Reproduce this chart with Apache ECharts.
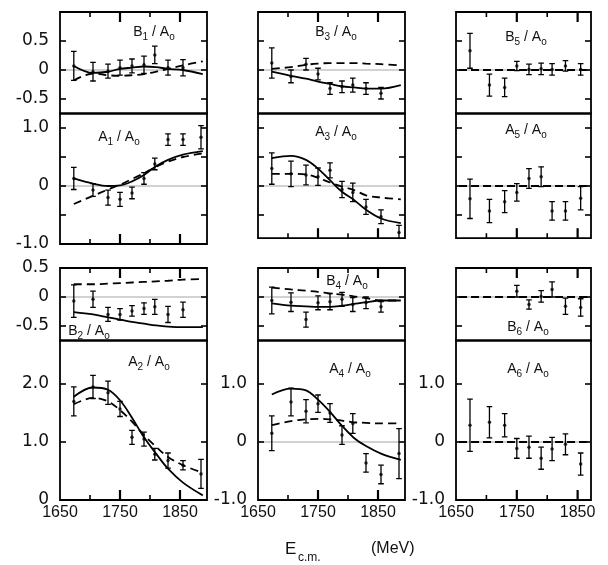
<!DOCTYPE html>
<html><head><meta charset="utf-8">
<script src="https://cdn.jsdelivr.net/npm/echarts@6/dist/echarts.min.js"></script>
<style>html,body{margin:0;padding:0;background:#fff}#c{width:608px;height:565px}</style>
</head><body><div id="c"></div>
<script>
// ---------------- DATA ----------------
const energies   = [1673, 1705, 1730, 1750, 1770, 1790, 1808, 1830, 1855, 1885];
const energiesB6 = [1750, 1770, 1790, 1808, 1830, 1855];
const curveE     = [1673, 1705, 1730, 1750, 1770, 1790, 1810, 1830, 1855, 1888];
const zeroModelE = [1655, 1868];
const zeroModel  = [0, 0];

const b1Val = [0.07, -0.03, -0.02, 0.04, 0.07, 0.09, 0.26, 0.04, 0.04];
const b1Err = [0.25, 0.16, 0.12, 0.13, 0.12, 0.15, 0.15, 0.13, 0.14];
const b1Solid  = [0.07, -0.05, -0.03, 0.02, 0.04, 0.06, 0.05, 0.02, 0.0, -0.07];
const b1Dashed = [-0.18, -0.06, -0.09, -0.1, -0.09, -0.07, -0.03, 0.02, 0.08, 0.15];

const a1Val = [0.13, -0.07, -0.2, -0.23, -0.12, 0.13, 0.38, 0.8, 0.8, 0.84];
const a1Err = [0.19, 0.11, 0.13, 0.12, 0.1, 0.1, 0.1, 0.1, 0.1, 0.2];
const a1Solid  = [0.13, 0.04, 0.0, 0.01, 0.08, 0.19, 0.34, 0.45, 0.54, 0.6];
const a1Dashed = [-0.31, -0.17, -0.06, 0.02, 0.12, 0.22, 0.33, 0.42, 0.5, 0.56];

const b3Val = [0.12, -0.11, 0.1, -0.07, -0.32, -0.29, -0.26, -0.32, -0.4];
const b3Err = [0.26, 0.11, 0.1, 0.1, 0.1, 0.1, 0.12, 0.1, 0.1];
const b3Solid  = [-0.03, -0.1, -0.15, -0.2, -0.24, -0.28, -0.3, -0.32, -0.32, -0.26];
const b3Dashed = [0.02, 0.05, 0.09, 0.11, 0.12, 0.12, 0.12, 0.11, 0.1, 0.08];

const a3Val = [0.3, 0.21, 0.19, 0.16, 0.27, -0.06, -0.11, -0.36, -0.53, -0.8];
const a3Err = [0.27, 0.22, 0.17, 0.15, 0.13, 0.14, 0.16, 0.13, 0.12, 0.12];
const a3Solid  = [0.48, 0.52, 0.45, 0.3, 0.1, -0.1, -0.24, -0.41, -0.56, -0.64];
const a3Dashed = [0.21, 0.21, 0.2, 0.14, 0.06, -0.01, -0.07, -0.16, -0.2, -0.23];

const b5Val = [0.33, -0.26, -0.3, 0.07, 0.01, 0.02, 0.01, 0.07, 0.01];
const b5Err = [0.3, 0.19, 0.16, 0.08, 0.09, 0.1, 0.1, 0.09, 0.1];

const a5Val = [-0.22, -0.43, -0.27, -0.11, 0.13, 0.16, -0.43, -0.43, -0.21];
const a5Err = [0.34, 0.2, 0.19, 0.15, 0.17, 0.17, 0.16, 0.16, 0.2];

const b2Val = [-0.07, -0.04, -0.3, -0.3, -0.24, -0.2, -0.17, -0.3, -0.22];
const b2Err = [0.28, 0.14, 0.12, 0.1, 0.09, 0.1, 0.13, 0.14, 0.13];
const b2Solid  = [-0.26, -0.3, -0.35, -0.39, -0.43, -0.46, -0.49, -0.51, -0.52, -0.52];
const b2Dashed = [0.22, 0.22, 0.23, 0.24, 0.25, 0.26, 0.27, 0.28, 0.3, 0.31];

const a2Val = [1.7, 1.95, 1.85, 1.57, 1.08, 1.05, 0.79, 0.68, 0.6, 0.45];
const a2Err = [0.25, 0.2, 0.2, 0.13, 0.12, 0.12, 0.1, 0.13, 0.08, 0.25];
const a2Solid  = [1.78, 1.94, 1.9, 1.72, 1.42, 1.08, 0.8, 0.54, 0.3, 0.08];
const a2Dashed = [1.65, 1.76, 1.7, 1.55, 1.35, 1.12, 0.92, 0.74, 0.6, 0.47];

const b4Val = [-0.06, -0.09, -0.39, -0.1, -0.08, -0.04, -0.13, -0.1, -0.17];
const b4Err = [0.23, 0.16, 0.13, 0.12, 0.14, 0.12, 0.12, 0.1, 0.09];
const b4Solid  = [-0.11, -0.15, -0.16, -0.17, -0.17, -0.15, -0.12, -0.09, -0.06, -0.06];
const b4Dashed = [0.16, 0.13, 0.11, 0.09, 0.06, 0.04, 0.01, -0.02, -0.06, -0.06];

const a4Val = [0.15, 0.69, 0.53, 0.66, 0.5, 0.12, 0.32, -0.36, -0.56, -0.2];
const a4Err = [0.3, 0.24, 0.2, 0.15, 0.16, 0.16, 0.17, 0.16, 0.16, 0.43];
const a4Solid  = [0.82, 0.92, 0.89, 0.73, 0.52, 0.28, 0.07, -0.07, -0.2, -0.31];
const a4Dashed = [0.29, 0.36, 0.39, 0.4, 0.39, 0.37, 0.34, 0.33, 0.32, 0.32];

const b6Val = [0.1, -0.13, 0.01, 0.13, -0.16, -0.18];
const b6Err = [0.1, 0.08, 0.1, 0.13, 0.14, 0.15];

const a6Val = [0.29, 0.34, 0.29, -0.11, -0.09, -0.28, -0.12, -0.04, -0.38];
const a6Err = [0.45, 0.27, 0.2, 0.17, 0.19, 0.19, 0.2, 0.18, 0.19];

// tick values / labels
const xTickLabels = [1650, 1750, 1850];
const xMajorTicks = [1750, 1850];
const xMinorTicks = [1700, 1800];
const bTopTicks = [-0.5, 0, 0.5];
const bTopLabels = [-0.5, 0, 0.5];
const aTopTicks = [-0.5, 0, 0.5, 1.0];
const aTopLabels = [-1.0, 0, 1.0];
const bBotTicks = [-0.5, 0];
const bBotLabels = [-0.5, 0, 0.5];
const a2Ticks = [1.0, 2.0];
const a2Labels = [0, 1.0, 2.0];
const aBotTicks = [0, 1.0];
const aBotLabels = [-1.0, 0, 1.0];

const names = {B1:['B','1'],A1:['A','1'],B3:['B','3'],A3:['A','3'],B5:['B','5'],A5:['A','5'],
               B2:['B','2'],A2:['A','2'],B4:['B','4'],A4:['A','4'],B6:['B','6'],A6:['A','6']};

// ---------------- LAYOUT ----------------
const FONT = '"Liberation Sans", Arial, sans-serif';
const YFONT = '"DejaVu Sans", "Liberation Sans", sans-serif';
const COLS = [{left:60,width:147,xmax:1895},{left:258,width:147,xmax:1895},{left:456,width:135,xmax:1872}];
const PXU = 58;            // px per unit on every y axis
const MAJOR_LEN = 10, MINOR_LEN = 5, Y_LEN = 6;

const panels = [
  {key:'B1',col:0,top:12,   min:-0.75,max:1.0, side:'top',   pts:[energies,b1Val,b1Err], sol:b1Solid, das:b1Dashed, ticks:bTopTicks, labels:bTopLabels, lab:[154,32]},
  {key:'A1',col:0,top:113.5,min:-1.0, max:1.25,side:'bottom',pts:[energies,a1Val,a1Err], sol:a1Solid, das:a1Dashed, ticks:aTopTicks, labels:aTopLabels, lab:[119,137]},
  {key:'B2',col:0,top:268,  min:-0.75,max:0.5, side:'top',   pts:[energies,b2Val,b2Err], sol:b2Solid, das:b2Dashed, ticks:bBotTicks, labels:bBotLabels, lab:[89,331]},
  {key:'A2',col:0,top:340.5,min:0,    max:2.75,side:'bottom',pts:[energies,a2Val,a2Err], sol:a2Solid, das:a2Dashed, ticks:a2Ticks, labels:a2Labels, lab:[149,362], xl:true},
  {key:'B3',col:1,top:12,   min:-0.75,max:1.0, side:'top',   pts:[energies,b3Val,b3Err], sol:b3Solid, das:b3Dashed, ticks:bTopTicks, lab:[336,32]},
  {key:'A3',col:1,top:113.5,min:-0.9, max:1.25,side:'bottom',pts:[energies,a3Val,a3Err], sol:a3Solid, das:a3Dashed, ticks:aTopTicks, lab:[336,132]},
  {key:'B4',col:1,top:268,  min:-0.75,max:0.5, side:'top',   pts:[energies,b4Val,b4Err], sol:b4Solid, das:b4Dashed, ticks:bBotTicks, lab:[347,281]},
  {key:'A4',col:1,top:340.5,min:-1.0, max:1.75,side:'bottom',pts:[energies,a4Val,a4Err], sol:a4Solid, das:a4Dashed, ticks:aBotTicks, labels:aBotLabels, lab:[350,369], xl:true},
  {key:'B5',col:2,top:12,   min:-0.75,max:1.0, side:'top',   pts:[energies,b5Val,b5Err], zero:true, ticks:bTopTicks, lab:[526,37]},
  {key:'A5',col:2,top:113.5,min:-0.9, max:1.25,side:'bottom',pts:[energies,a5Val,a5Err], zero:true, ticks:aTopTicks, lab:[526,130]},
  {key:'B6',col:2,top:268,  min:-0.75,max:0.5, side:'top',   pts:[energiesB6,b6Val,b6Err], zero:true, ticks:bBotTicks, lab:[528,327]},
  {key:'A6',col:2,top:340.5,min:-1.0, max:1.75,side:'bottom',pts:[energies,a6Val,a6Err], zero:true, ticks:aBotTicks, labels:aBotLabels, lab:[528,369], xl:true}
];

function fmt(v){ return v === 0 ? '0' : v.toFixed(1); }
function zip(a,b){ return b.map((v,i)=>[a[i],v]); }

function renderErr(params, api){
  const x = api.value(0), lo = api.value(1), hi = api.value(2);
  const a = api.coord([x, hi]), b = api.coord([x, lo]);
  const cw = 2.8;
  const st = {stroke:'#000', lineWidth:1.3};
  return {type:'group', children:[
    {type:'line', shape:{x1:a[0],y1:a[1],x2:b[0],y2:b[1]}, style:st},
    {type:'line', shape:{x1:a[0]-cw,y1:a[1],x2:a[0]+cw,y2:a[1]}, style:st},
    {type:'line', shape:{x1:b[0]-cw,y1:b[1],x2:b[0]+cw,y2:b[1]}, style:st}
  ]};
}

const grid=[], xAxis=[], yAxis=[], series=[], texts=[];

panels.forEach((p,i)=>{
  const c = COLS[p.col];
  const h = (p.max - p.min) * PXU;
  grid.push({left:c.left, top:p.top, width:c.width, height:h, show:true, borderColor:'#000', borderWidth:1.8, backgroundColor:'rgba(0,0,0,0)'});
  xAxis.push({type:'value', gridIndex:i, min:1650, max:c.xmax, position:'bottom', splitLine:{show:false},
    axisLine:{show:false,onZero:false}, axisTick:{show:false},
    axisLabel:{show:!!p.xl, customValues:xTickLabels, formatter:v=>String(v), color:'#111', fontSize:16, fontFamily:FONT, margin:5}
  });
  yAxis.push({type:'value', gridIndex:i, min:p.min, max:p.max, position:'left', splitLine:{show:false},
    axisLine:{show:false,onZero:false}, axisTick:{show:false},
    axisLabel:{show:!!p.labels, customValues:p.labels||[], formatter:fmt, color:'#111', fontSize:17, fontFamily:YFONT, margin:11}
  });

  if (p.min < 0) {
    series.push({type:'line', xAxisIndex:i, yAxisIndex:i, data:[[1650,0],[c.xmax,0]], symbol:'none', silent:true, z:1,
      lineStyle:{color:'#9a9a9a', width:0.9}});
  }
  if (p.sol) {
    series.push({type:'line', xAxisIndex:i, yAxisIndex:i, data:zip(curveE,p.sol), symbol:'none', smooth:0.35, z:3,
      lineStyle:{color:'#000', width:1.8}});
    series.push({type:'line', xAxisIndex:i, yAxisIndex:i, data:zip(curveE,p.das), symbol:'none', smooth:0.35, z:3,
      lineStyle:{color:'#000', width:1.8, type:[8,5]}});
  }
  if (p.zero) {
    series.push({type:'line', xAxisIndex:i, yAxisIndex:i, data:zip(zeroModelE,zeroModel), symbol:'none', z:3,
      lineStyle:{color:'#000', width:1.8, type:[8,4]}});
  }
  const [ex, ev, ee] = p.pts;
  series.push({type:'custom', xAxisIndex:i, yAxisIndex:i, clip:true, z:4, renderItem:renderErr,
    encode:{x:0, y:[1,2]}, data: ev.map((v,k)=>[ex[k], v-ee[k], v+ee[k]])});
  series.push({type:'scatter', xAxisIndex:i, yAxisIndex:i, symbol:'circle', symbolSize:3.5, z:5,
    itemStyle:{color:'#000'}, data: zip(ex, ev)});

  const nm = names[p.key];
  texts.push({type:'text', x:p.lab[0], y:p.lab[1], z:10, style:{
    text:'{m|'+nm[0]+'}{s|'+nm[1]+'}{m| / A}{s|o}', align:'center', verticalAlign:'middle',
    rich:{m:{fontSize:14, fontFamily:FONT, fill:'#111', lineHeight:20, verticalAlign:'middle'},
          s:{fontSize:10, fontFamily:FONT, fill:'#111', lineHeight:10, verticalAlign:'bottom'}}
  }});
});

texts.push({type:'text', x:285, y:541, style:{text:'E', fontSize:17, fontFamily:FONT, fill:'#111'}});
texts.push({type:'text', x:298, y:552, style:{text:'c.m.', fontSize:12, fontFamily:FONT, fill:'#111'}});
texts.push({type:'text', x:371, y:541, style:{text:'(MeV)', fontSize:16, fontFamily:FONT, fill:'#111'}});

const chart = echarts.init(document.getElementById('c'), null, {renderer:'canvas'});
chart.setOption({backgroundColor:'#fff', animation:false, grid, xAxis, yAxis, series});

// inside tick marks, positioned through each panel's own scales
const tickEls = [];
function tick(p1, dx, dy, w){
  tickEls.push({type:'line', silent:true, z:50,
    shape:{x1:p1[0], y1:p1[1], x2:p1[0]+dx, y2:p1[1]+dy}, style:{stroke:'#000', lineWidth:w}});
}
panels.forEach((p,i)=>{
  const c = COLS[p.col];
  const edge = p.side === 'top' ? p.max : p.min;
  const dir = p.side === 'top' ? 1 : -1;
  const px = v => chart.convertToPixel({gridIndex:i}, v);
  xMajorTicks.forEach(v=>tick(px([v, edge]), 0, dir*MAJOR_LEN, 2.2));
  xMinorTicks.forEach(v=>tick(px([v, edge]), 0, dir*MINOR_LEN, 1.6));
  p.ticks.forEach(v=>{
    tick(px([1650, v]), Y_LEN, 0, 1.6);
    tick(px([c.xmax, v]), -Y_LEN, 0, 1.6);
  });
});
chart.setOption({graphic: texts.concat(tickEls)});
</script></body></html>
